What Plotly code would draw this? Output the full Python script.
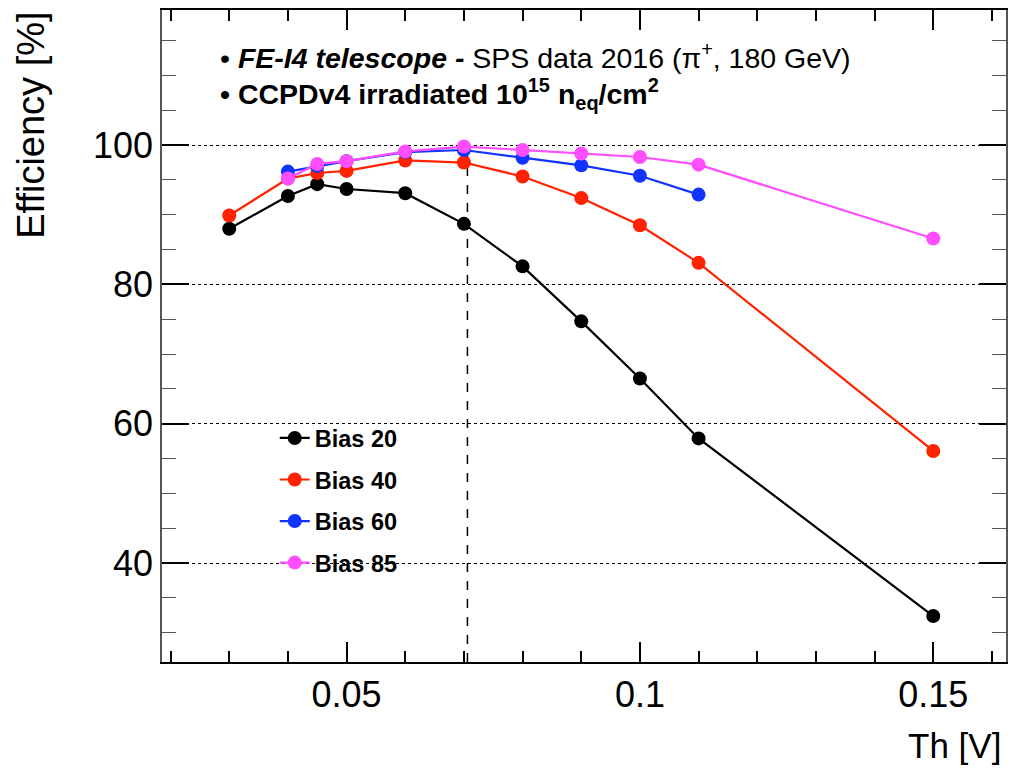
import plotly.graph_objects as go

# ---- data ----
th_20 = [0.03, 0.04, 0.045, 0.05, 0.06, 0.07, 0.08, 0.09, 0.10, 0.11, 0.15]
eff_20 = [88.0, 92.7, 94.4, 93.7, 93.1, 88.7, 82.6, 74.7, 66.5, 57.9, 32.4]
th_40 = [0.03, 0.04, 0.045, 0.05, 0.06, 0.07, 0.08, 0.09, 0.10, 0.11, 0.15]
eff_40 = [89.9, 95.2, 96.0, 96.3, 97.8, 97.5, 95.5, 92.4, 88.5, 83.1, 56.1]
th_60 = [0.04, 0.045, 0.05, 0.06, 0.07, 0.08, 0.09, 0.10, 0.11]
eff_60 = [96.2, 97.0, 97.7, 99.0, 99.3, 98.2, 97.1, 95.6, 92.9]
th_85 = [0.04, 0.045, 0.05, 0.06, 0.07, 0.08, 0.09, 0.10, 0.11, 0.15]
eff_85 = [95.2, 97.3, 97.7, 99.1, 99.8, 99.3, 98.8, 98.3, 97.2, 86.6]
series_names = ["Bias 20", "Bias 40", "Bias 60", "Bias 85"]
threshold_line = 0.0706
threshold_top = 100

colors = ["#000000", "#ff2200", "#1133ff", "#ff4dff"]
FONT = "Liberation Sans, Arial, Helvetica, sans-serif"

fig = go.Figure()
for name, xs, ys, c in zip(series_names, [th_20, th_40, th_60, th_85],
                           [eff_20, eff_40, eff_60, eff_85], colors):
    fig.add_trace(go.Scatter(
        x=xs, y=ys, name=name, mode="lines+markers", legendgroup=name,
        line=dict(color=c, width=2.2),
        marker=dict(color=c, size=14, symbol="circle"),
    ))

y_range = [25.8, 119.4]
fig.add_shape(type="line", xref="x", yref="y",
              x0=threshold_line, x1=threshold_line, y0=y_range[0], y1=threshold_top,
              line=dict(color="black", width=1.5, dash="dash"), layer="below")

fig.update_layout(
    width=1013, height=771,
    margin=dict(l=162, r=5, t=10, b=109),
    paper_bgcolor="white", plot_bgcolor="white",
    font=dict(family=FONT, color="black"),
    showlegend=True,
    legend=dict(x=0.1336, y=0.377, xanchor="left", yanchor="top",
                bgcolor="rgba(0,0,0,0)", tracegroupgap=8,
                font=dict(size=23.5, family=FONT, weight="bold"),
                itemwidth=30),
    xaxis=dict(range=[0.01854, 0.1624], dtick=0.05, tick0=0,
               ticks="inside", ticklen=20, tickwidth=1.5, tickcolor="black",
               showline=True, linecolor="black", linewidth=1.5, mirror="allticks",
               showgrid=False, zeroline=False,
               tickfont=dict(size=36, family=FONT),
               minor=dict(dtick=0.01, tick0=0, ticks="inside", ticklen=11,
                          tickwidth=1.5, tickcolor="black", showgrid=False)),
    yaxis=dict(range=y_range, dtick=20, tick0=0,
               ticks="inside", ticklen=27, tickwidth=1.5, tickcolor="black",
               showline=True, linecolor="#555555", linewidth=1.5, mirror="allticks",
               showgrid=True, gridcolor="black", gridwidth=1, griddash="dot",
               zeroline=False,
               tickfont=dict(size=36, family=FONT),
               minor=dict(dtick=5, tick0=0, ticks="inside", ticklen=14,
                          tickwidth=1.2, tickcolor="#555555", showgrid=False)),
)

fig.add_annotation(text="Efficiency [%]", textangle=-90, xref="paper", yref="paper",
                   x=-0.156, y=1.0, xanchor="center", yanchor="top", showarrow=False,
                   font=dict(size=38, family=FONT))
fig.add_annotation(text="Th [V]", xref="paper", yref="paper",
                   x=0.997, y=-0.128, xanchor="right", yanchor="middle", showarrow=False,
                   font=dict(size=35, family=FONT))
fig.add_annotation(text="• <b><i>FE-I4 telescope -</i></b> SPS data 2016 (π<sup>+</sup>, 180 GeV)",
                   xref="paper", yref="paper", x=0.066, y=0.929,
                   xanchor="left", yanchor="middle", showarrow=False,
                   font=dict(size=28.5, family=FONT))
fig.add_annotation(text="<b>• CCPDv4 irradiated 10<sup>15</sup> n<sub>eq</sub>/cm<sup>2</sup></b>",
                   xref="paper", yref="paper", x=0.066, y=0.871,
                   xanchor="left", yanchor="middle", showarrow=False,
                   font=dict(size=28.5, family=FONT))

fig.write_html("out.html")
